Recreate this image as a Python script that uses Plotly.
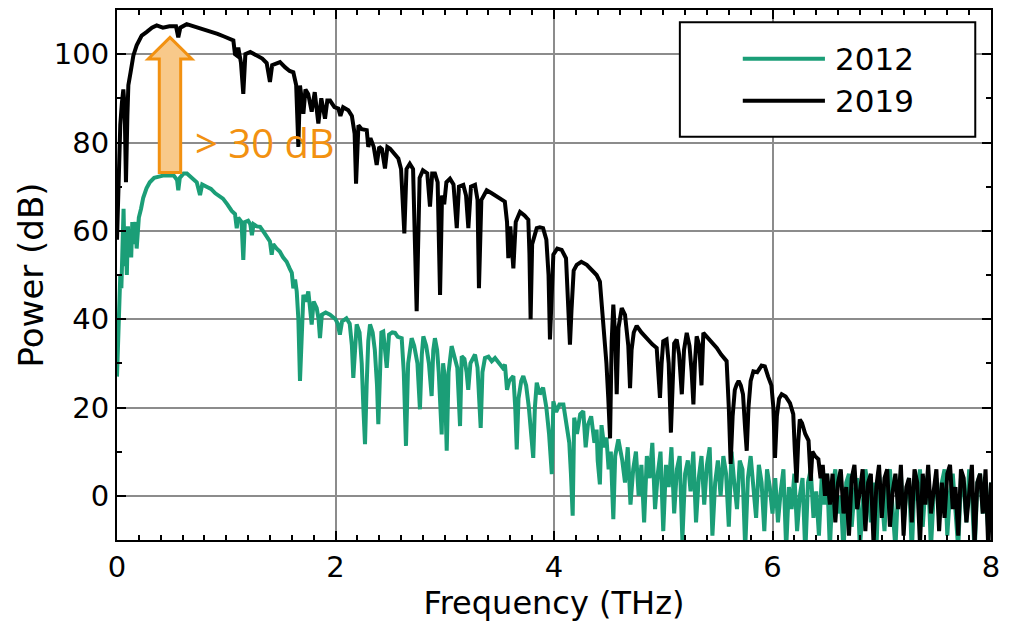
import plotly.graph_objects as go

# THz spectra: (frequency in THz, power in dB)
rise_2012 = [
    (0.00, 27), (0.01, 35), (0.02, 44), (0.03, 50), (0.04, 47), (0.05, 58),
    (0.06, 65), (0.07, 52), (0.08, 58), (0.09, 50), (0.10, 61), (0.11, 55),
    (0.12, 60), (0.13, 54), (0.14, 62), (0.15, 57), (0.17, 62), (0.18, 56),
    (0.20, 63), (0.22, 65), (0.24, 67.5), (0.27, 69.6), (0.30, 71), (0.34, 72),
    (0.38, 72.3), (0.42, 72.5), (0.47, 72.6), (0.52, 72.5), (0.55, 71.5),
    (0.561, 69.2), (0.575, 72), (0.61, 73), (0.64, 73), (0.68, 72), (0.73, 71),
    (0.76, 68.1), (0.78, 70.5), (0.82, 70), (0.86, 69.5), (0.90, 68.5),
    (0.94, 67.8), (0.97, 67.3),
]
slope_2012 = [
    (1.01, 66), (1.05, 64.5), (1.08, 63.8), (1.096, 60.6), (1.11, 63), (1.14, 62),
    (1.156, 53.4), (1.17, 62), (1.20, 62.3), (1.22, 61.5), (1.235, 59), (1.25, 61.5),
    (1.28, 61), (1.31, 60.9), (1.35, 59.5), (1.38, 58.5), (1.40, 57.6), (1.416, 54.6),
    (1.43, 57), (1.46, 56), (1.49, 55.3), (1.52, 54), (1.553, 53), (1.58, 51.5),
    (1.60, 50.5), (1.614, 47), (1.63, 49), (1.645, 46.3), (1.66, 40), (1.675, 26),
    (1.69, 38), (1.706, 45.5), (1.73, 44), (1.751, 46.3), (1.765, 43), (1.782, 38.8),
    (1.80, 44), (1.828, 42.5), (1.845, 40), (1.858, 35.7), (1.875, 41), (1.91, 41.5),
    (1.95, 41), (1.98, 40.5), (2.00, 40), (2.02, 39), (2.04, 36.5), (2.06, 39.5),
    (2.10, 40.2), (2.13, 39), (2.15, 34), (2.163, 26.7), (2.18, 36), (2.194, 38.8),
    (2.22, 37), (2.24, 30), (2.255, 20), (2.27, 11.7), (2.285, 25), (2.30, 35),
    (2.316, 38.8), (2.34, 37), (2.36, 33), (2.38, 25), (2.392, 16.2), (2.405, 30),
    (2.42, 37), (2.437, 37.2), (2.45, 33), (2.469, 29), (2.49, 36.5), (2.52, 37),
    (2.545, 36.9), (2.57, 36),
]
lines_2012 = [
    (2.606, 35.7), (2.625, 28), (2.645, 11.3), (2.665, 30), (2.697, 35.7), (2.72, 34),
    (2.75, 30), (2.773, 19.6), (2.79, 32), (2.804, 36.1), (2.83, 34), (2.855, 30),
    (2.88, 22.6), (2.895, 33), (2.91, 35.7), (2.93, 33), (2.945, 28), (2.972, 13.9),
    (2.985, 30), (3.00, 27), (3.018, 10.2), (3.035, 28), (3.063, 33.9), (3.09, 31),
    (3.115, 29), (3.14, 15.8), (3.155, 31.6), (3.18, 31), (3.20, 28), (3.215, 24),
    (3.235, 30), (3.277, 32), (3.30, 29), (3.315, 22), (3.329, 15.4), (3.345, 28),
    (3.368, 31.2), (3.40, 31.5), (3.43, 30.5), (3.46, 31.2), (3.50, 30), (3.53, 29),
    (3.551, 29.7), (3.57, 24), (3.59, 26), (3.628, 27.1), (3.645, 20), (3.659, 10.5),
    (3.675, 22), (3.70, 26), (3.719, 27.1), (3.745, 25), (3.77, 20), (3.795, 14),
    (3.81, 8.6), (3.825, 20), (3.842, 25.6), (3.87, 23), (3.90, 24.5), (3.93, 20),
    (3.955, 14), (3.98, 4.9), (3.994, 21.4), (4.02, 19), (4.05, 20.7), (4.086, 20.7),
    (4.11, 17), (4.14, 12), (4.155, 5), (4.171, -4.5), (4.185, 17.7), (4.21, 14),
    (4.24, 18.5), (4.268, 19.2), (4.29, 11), (4.31, 16), (4.34, 18), (4.37, 12),
    (4.39, 15), (4.40, 8), (4.42, 2.6), (4.435, 16), (4.46, 11), (4.48, 13.2),
    (4.50, 6), (4.52, 10), (4.543, -5.3), (4.56, 9), (4.589, 12.8),
]
noise_2012 = [
    (4.625, 8), (4.65, 3), (4.675, 11), (4.7, -2), (4.725, 6), (4.75, 10),
    (4.775, 0), (4.8, 7), (4.825, -6), (4.85, 9), (4.875, 4), (4.9, 12),
    (4.925, -3), (4.95, 5), (4.975, 10), (5.0, -8), (5.025, 7), (5.05, 2),
    (5.075, 11), (5.1, -4), (5.125, 6), (5.15, 9), (5.175, -10), (5.2, 5),
    (5.225, 8), (5.25, 1), (5.275, 10), (5.3, -6), (5.325, 4), (5.35, 9),
    (5.375, -2), (5.4, 7), (5.425, 11), (5.45, -9), (5.475, 3), (5.5, 8),
    (5.525, 0), (5.55, 9), (5.575, 5), (5.6, -7), (5.625, 10), (5.65, 3),
    (5.675, -3), (5.7, 8), (5.725, 6), (5.75, -12), (5.775, 4), (5.8, 9),
    (5.825, 1), (5.85, -5), (5.875, 7), (5.9, 3), (5.925, -8), (5.95, 6),
    (5.975, 2), (6.0, -4), (6.025, 4), (6.05, -6), (6.075, 1), (6.1, 6),
    (6.125, -12), (6.15, 2), (6.175, -3), (6.2, 5), (6.225, -8), (6.25, 0),
    (6.275, 4), (6.3, -13), (6.325, 3), (6.35, 6), (6.375, -5), (6.4, 1),
    (6.425, -9), (6.45, 4), (6.475, -2), (6.5, 5), (6.525, -12), (6.55, 2),
    (6.575, 6), (6.6, -4), (6.625, 0), (6.65, -13), (6.675, 3), (6.7, 5),
    (6.725, -7), (6.75, 1), (6.775, 4), (6.8, -12), (6.825, -2), (6.85, 6),
    (6.875, 2), (6.9, -6), (6.925, 3), (6.95, -13), (6.975, 5), (7.0, 0),
    (7.025, -8), (7.05, 4), (7.075, 6), (7.1, -3), (7.125, -12), (7.15, 2),
    (7.175, 5), (7.2, -6), (7.225, 1), (7.25, 4), (7.275, -13), (7.3, 3),
    (7.325, -1), (7.35, 6), (7.375, -7), (7.4, 2), (7.425, 5), (7.45, -12),
    (7.475, 0), (7.5, 4), (7.525, -5), (7.55, 3), (7.575, 6), (7.6, -9),
    (7.625, 1), (7.65, 5), (7.675, -3), (7.7, -12), (7.725, 4), (7.75, 2),
    (7.775, -6), (7.8, 6), (7.825, 0), (7.85, -13), (7.875, 3), (7.9, 5),
    (7.925, -4), (7.95, 1), (7.975, -8), (8.0, 3),
]

peak_2019 = [
    (0.000, 58), (0.010, 68), (0.020, 78), (0.030, 84), (0.045, 89), (0.058, 92),
    (0.070, 88), (0.082, 71), (0.095, 86), (0.104, 93), (0.125, 96), (0.150, 99.7),
    (0.180, 102), (0.226, 104.2), (0.270, 105), (0.320, 106), (0.363, 106.5),
    (0.420, 106), (0.480, 106.3), (0.540, 106.3), (0.561, 103.8), (0.580, 106),
    (0.638, 106.8), (0.700, 106.3), (0.760, 106), (0.851, 105.3), (0.920, 104.6),
    (0.980, 104), (1.030, 103.5), (1.065, 103.1), (1.080, 100), (1.096, 99.7),
    (1.110, 101.5), (1.135, 98), (1.156, 91), (1.175, 100), (1.220, 100.5),
    (1.278, 99.7), (1.330, 99), (1.370, 98), (1.385, 96), (1.400, 93.7),
    (1.420, 97.5), (1.460, 97.8), (1.492, 98.2), (1.540, 97), (1.580, 96.2),
]
slope_2019 = [
    (1.614, 95.9), (1.640, 93), (1.660, 79), (1.675, 92.9), (1.690, 90),
    (1.706, 86.5), (1.725, 92), (1.750, 91), (1.782, 87), (1.810, 91.4),
    (1.843, 84.3), (1.870, 90), (1.904, 85.4), (1.925, 89.5), (1.950, 89.5),
    (1.990, 88), (2.026, 87.7), (2.045, 86), (2.070, 88), (2.117, 87.3),
    (2.150, 86), (2.175, 82), (2.188, 70.7), (2.210, 83.9), (2.240, 83),
    (2.286, 82.8), (2.300, 79), (2.320, 81), (2.350, 79), (2.377, 74.9),
    (2.400, 79), (2.425, 78.5), (2.453, 74.1), (2.475, 79), (2.500, 78.6),
    (2.540, 77.5), (2.575, 76.4), (2.600, 74), (2.630, 59.4), (2.650, 74),
    (2.680, 75.2), (2.710, 74), (2.743, 41.8), (2.770, 72), (2.800, 73.7),
    (2.840, 73), (2.865, 65.5), (2.885, 73), (2.910, 73), (2.935, 71),
    (2.957, 45.5), (2.975, 68), (2.995, 66),
]
lines_2019 = [
    (3.015, 71), (3.048, 71.8), (3.080, 70.5), (3.095, 66), (3.110, 60.6),
    (3.130, 70), (3.170, 70.4), (3.195, 68), (3.216, 60.6), (3.240, 70),
    (3.277, 70.4), (3.300, 67), (3.313, 47), (3.335, 67), (3.384, 69.2),
    (3.430, 68.5), (3.476, 67.7), (3.520, 67), (3.550, 66.6), (3.570, 62),
    (3.582, 53.8), (3.600, 61), (3.615, 57), (3.628, 51.5), (3.650, 62),
    (3.689, 64.3), (3.730, 63.5), (3.765, 62.5), (3.775, 55), (3.786, 40),
    (3.800, 57), (3.842, 60.6), (3.870, 60.8), (3.900, 60.6), (3.930, 58),
    (3.950, 50), (3.963, 35.4), (3.978, 46), (3.994, 54.6), (4.030, 56),
    (4.070, 55.7), (4.110, 53.8), (4.130, 45), (4.146, 34.2), (4.160, 42),
    (4.180, 51), (4.208, 52.3), (4.250, 53), (4.300, 52.3), (4.350, 51),
    (4.390, 50), (4.420, 48.5), (4.440, 42), (4.460, 38), (4.480, 30),
]
tail_2019 = [
    (4.497, 22), (4.513, 13), (4.528, 35), (4.543, 43.3), (4.560, 36), (4.574, 23),
    (4.590, 38), (4.620, 42.5), (4.650, 41), (4.680, 34), (4.696, 24.4), (4.710, 33),
    (4.730, 37), (4.757, 38.5), (4.800, 37), (4.850, 35.5), (4.900, 34.3),
    (4.940, 33.5), (4.955, 28), (4.970, 22.2), (4.985, 30), (5.000, 35),
    (5.030, 35.4), (5.050, 30), (5.070, 14.3), (5.085, 28), (5.100, 34.5),
    (5.123, 35.4), (5.145, 32), (5.170, 23), (5.190, 33), (5.215, 36.9),
    (5.240, 34), (5.260, 28), (5.276, 20.7), (5.290, 30), (5.306, 36.1),
    (5.330, 34), (5.350, 25), (5.367, 36.9), (5.400, 36), (5.440, 35),
    (5.490, 33.5), (5.530, 32), (5.580, 30.5), (5.600, 20), (5.617, 7.2),
    (5.635, 18), (5.655, 24), (5.672, 25.2), (5.690, 26), (5.710, 25),
    (5.730, 23), (5.750, 15), (5.764, 10.2), (5.780, 20), (5.800, 26),
    (5.825, 28.2), (5.860, 28), (5.900, 29.5), (5.930, 29.3), (5.960, 27),
    (5.990, 25), (6.008, 20), (6.023, 8.6), (6.040, 18), (6.060, 22),
    (6.084, 23), (6.120, 22.5), (6.160, 21), (6.190, 18.5), (6.205, 10),
    (6.220, 3), (6.235, 12), (6.250, 17.3), (6.270, 16.5), (6.300, 14),
    (6.330, 12.5), (6.340, 8), (6.350, 3.4), (6.365, 10), (6.390, 9),
    (6.420, 8.3), (6.440, 4), (6.460, 7), (6.480, 0), (6.500, 5),
]
noise_2019 = [
    (6.525, -2), (6.55, 5), (6.575, -6), (6.6, 3), (6.625, 6), (6.65, -4),
    (6.675, 2), (6.7, -9), (6.725, 4), (6.75, 7), (6.775, -3), (6.8, 1),
    (6.825, 6), (6.85, -8), (6.875, 3), (6.9, 5), (6.925, -11), (6.95, 2),
    (6.975, 7), (7.0, -5), (7.025, 4), (7.05, 6), (7.075, -7), (7.1, 1),
    (7.125, 5), (7.15, -3), (7.175, 7), (7.2, -9), (7.225, 2), (7.25, 4),
    (7.275, -6), (7.3, 6), (7.325, 3), (7.35, -11), (7.375, 5), (7.4, -2),
    (7.425, 7), (7.45, -4), (7.475, 1), (7.5, 6), (7.525, -8), (7.55, 3),
    (7.575, -5), (7.6, 5), (7.625, 7), (7.65, -3), (7.675, 2), (7.7, -9),
    (7.725, 6), (7.75, 4), (7.775, -6), (7.8, 1), (7.825, 7), (7.85, -11),
    (7.875, 3), (7.9, 5), (7.925, -4), (7.95, 6), (7.975, -12), (8.0, 3),
]

# peak levels bridged by the arrow
PEAK_2012 = 73.2
PEAK_2019 = 103.8

GREEN = "#1B9E77"
ORANGE = "#F29111"

f12, p12 = zip(*(rise_2012 + slope_2012 + lines_2012 + noise_2012))
f19, p19 = zip(*(peak_2019 + slope_2019 + lines_2019 + tail_2019 + noise_2019))

fig = go.Figure()
fig.add_trace(go.Scatter(x=f12, y=p12, mode="lines", name="2012",
                         line=dict(color=GREEN, width=4), showlegend=False))
fig.add_trace(go.Scatter(x=f19, y=p19, mode="lines", name="2019",
                         line=dict(color="black", width=4), showlegend=False))

axis = dict(
    showline=True, linecolor="black", linewidth=2, mirror="ticks",
    ticks="inside", ticklen=9, tickwidth=2, tickcolor="black",
    showgrid=True, gridcolor="#8c8c8c", gridwidth=2, zeroline=False,
    tickfont=dict(family="DejaVu Sans", size=29, color="black"),
)
fig.update_xaxes(**axis, range=[0, 8], dtick=2,
                 minor=dict(dtick=0.2, ticks="inside", ticklen=5, tickwidth=1.5,
                            tickcolor="black", showgrid=False),
                 title=dict(text="Frequency (THz)", standoff=4,
                            font=dict(family="DejaVu Sans", size=32, color="black")))
fig.update_yaxes(**axis, range=[-10, 110], dtick=20,
                 minor=dict(dtick=10, ticks="inside", ticklen=5, tickwidth=1.5,
                            tickcolor="black", showgrid=False),
                 title=dict(text="Power (dB)", standoff=0,
                            font=dict(family="DejaVu Sans", size=34, color="black")))

# orange arrow from the 2012 peak up to the 2019 peak
ax, shaft, head = 0.485, 0.098, 0.2
head_base = PEAK_2019 - 4.9
arrow = (f"M {ax - shaft},{PEAK_2012} L {ax - shaft},{head_base} L {ax - head},{head_base} "
         f"L {ax},{PEAK_2019} L {ax + head},{head_base} L {ax + shaft},{head_base} "
         f"L {ax + shaft},{PEAK_2012} Z")
fig.add_shape(type="path", path=arrow, xref="x", yref="y",
              fillcolor="#F8C98A", line=dict(color=ORANGE, width=3), layer="above")
fig.add_annotation(x=0.70, y=80, xref="x", yref="y", text="> 30 dB", showarrow=False,
                   xanchor="left", yanchor="middle",
                   font=dict(family="Open Sans", size=40, color=ORANGE))

# legend box drawn by hand so the line samples are as long as in the original
fig.add_shape(type="rect", xref="paper", yref="paper", x0=0.644, x1=0.982, y0=0.761, y1=0.977,
              fillcolor="white", line=dict(color="black", width=2), layer="above")
for name, colour, yy in [("2012", GREEN, 0.908), ("2019", "black", 0.829)]:
    fig.add_shape(type="line", xref="paper", yref="paper", x0=0.716, x1=0.810, y0=yy, y1=yy,
                  line=dict(color=colour, width=4), layer="above")
    fig.add_annotation(x=0.819, y=yy, xref="paper", yref="paper", text=name, showarrow=False,
                       xanchor="left", yanchor="middle",
                       font=dict(family="DejaVu Sans", size=31, color="black"))

# the page puts the figure 8 px in from the corner, so the size is trimmed by that much
fig.update_layout(
    width=1002, height=615,
    margin=dict(l=109, r=19, t=0, b=83),
    plot_bgcolor="white", paper_bgcolor="white",
    showlegend=False,
)

fig.write_html("out.html")
